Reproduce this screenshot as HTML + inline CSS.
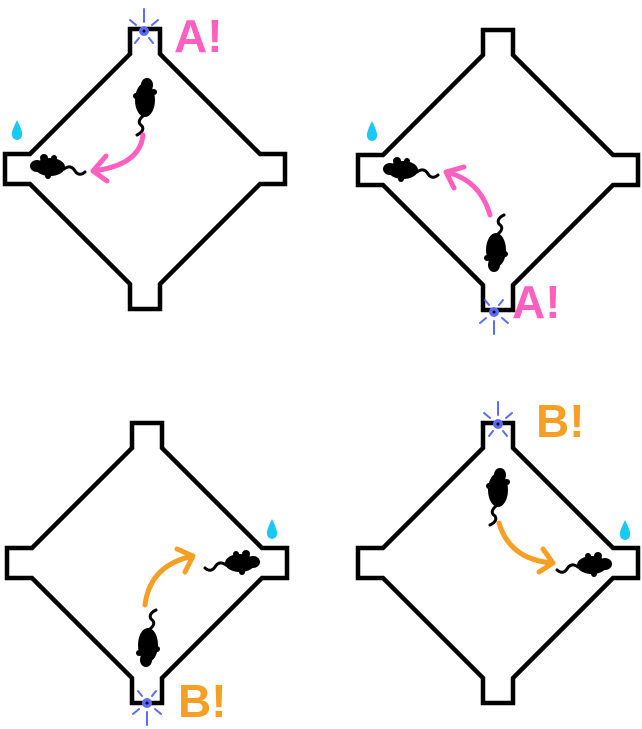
<!DOCTYPE html>
<html><head><meta charset="utf-8">
<style>
html,body{margin:0;padding:0;background:#fff;}
svg{display:block;}
.lbl{font-family:"Liberation Sans",sans-serif;font-weight:bold;font-size:46px;}
</style></head>
<body>
<svg id="s" width="642" height="729" viewBox="0 0 642 729">
<defs>
<g id="mouseH"><ellipse cx="0" cy="0" rx="15" ry="9" fill="#000"/><ellipse cx="-13" cy="-1" rx="7" ry="6" fill="#000"/><circle cx="-6" cy="-9" r="4" fill="#000"/><circle cx="4" cy="-9" r="3" fill="#000"/><circle cx="-2" cy="9" r="3" fill="#000"/><path d="M14 2 q7 -5 11 2 q4 6 10 1" stroke="#000" stroke-width="3" fill="none" stroke-linecap="round"/></g>
<g id="mouseV"><ellipse cx="0" cy="0" rx="10" ry="17" fill="#000"/><ellipse cx="2" cy="-15" rx="6" ry="7" fill="#000"/><circle cx="-9" cy="-4" r="3" fill="#000"/><circle cx="9" cy="-8" r="3" fill="#000"/><path d="M-2 16 q-7 6 -1 10 q3 5 -5 9" stroke="#000" stroke-width="3" fill="none" stroke-linecap="round"/></g>
<g id="star"><circle r="5" fill="#5b6bff"/><circle r="1.5" fill="#000"/><g stroke="#5b6bff" stroke-width="2" stroke-linecap="round"><line x1="0" y1="-9" x2="0" y2="-22"/><line x1="-8" y1="-6" x2="-14" y2="-11"/><line x1="8" y1="-6" x2="14" y2="-11"/><line x1="-5" y1="7" x2="-9" y2="12"/><line x1="5" y1="7" x2="9" y2="12"/></g></g>
<path id="drop" d="M0 -10 Q6 2 5 5 A5 5 0 0 1 -5 5 Q-6 2 0 -10Z" fill="#1ac8f5"/>
</defs>
<g id="mazes"></g>

<use href="#star" x="144" y="31"/>
<text class="lbl" x="174" y="52" fill="#ff5fbf">A!</text>
<use href="#drop" x="17" y="130"/>
<use href="#mouseV" x="145" y="100"/>
<use href="#mouseH" x="50" y="167"/>
<path d="M143 135 Q140 165 93 171 M93 171 l13 -15 M93 171 l14 10" stroke="#ff5fbf" stroke-width="5" fill="none" stroke-linecap="round"/>

<use href="#star" transform="translate(494,312) scale(1,-1)"/>
<text class="lbl" x="512" y="318" fill="#ff5fbf">A!</text>
<use href="#drop" x="372" y="131"/>
<use href="#mouseV" transform="translate(496,250) rotate(180)"/>
<use href="#mouseH" x="403" y="170"/>
<path d="M490 215 Q480 180 446 172 M446 172 l8 16 M446 172 l18 -5" stroke="#ff5fbf" stroke-width="5" fill="none" stroke-linecap="round"/>

<use href="#star" transform="translate(147,703) scale(1,-1)"/>
<text class="lbl" x="178" y="717" fill="#f5a024">B!</text>
<use href="#drop" x="272" y="529"/>
<use href="#mouseV" transform="translate(148,645) rotate(180)"/>
<use href="#mouseH" transform="translate(240,563) scale(-1,1)"/>
<path d="M145 605 Q150 565 193 556 M193 556 l-16 -7 M193 556 l-8 16" stroke="#f5a024" stroke-width="5" fill="none" stroke-linecap="round"/>

<use href="#star" x="498" y="424"/>
<text class="lbl" x="536" y="437" fill="#f5a024">B!</text>
<use href="#drop" x="625" y="530"/>
<use href="#mouseV" x="498" y="490"/>
<use href="#mouseH" transform="translate(592,565) scale(-1,1)"/>
<path d="M499 523 Q510 560 553 563 M553 563 l-10 -14 M553 563 l-14 9" stroke="#f5a024" stroke-width="5" fill="none" stroke-linecap="round"/>
</svg>
<script>
const centersX = [145, 498, 147, 498];
const centersY = [169, 170, 563, 563];
const mazeNames = ['maze-top-left','maze-top-right','maze-bottom-left','maze-bottom-right'];
const T = 140, B = 115, W = 15;
const g = document.getElementById('mazes');
for (let i = 0; i < centersX.length; i++) {
  const cx = centersX[i], cy = centersY[i];
  const pts = [
    [cx-W,cy-T],[cx+W,cy-T],[cx+W,cy-B],[cx+B,cy-W],[cx+T,cy-W],[cx+T,cy+W],[cx+B,cy+W],
    [cx+W,cy+B],[cx+W,cy+T],[cx-W,cy+T],[cx-W,cy+B],[cx-B,cy+W],[cx-T,cy+W],[cx-T,cy-W],[cx-B,cy-W],[cx-W,cy-B]
  ].map(p => p.join(',')).join(' ');
  const p = document.createElementNS('http://www.w3.org/2000/svg','polygon');
  p.setAttribute('points', pts);
  p.setAttribute('fill', 'none');
  p.setAttribute('stroke', '#000');
  p.setAttribute('stroke-width', '4.5');
  p.setAttribute('stroke-linejoin', 'miter');
  
  
  g.appendChild(p);
}
</script>
</body></html>
